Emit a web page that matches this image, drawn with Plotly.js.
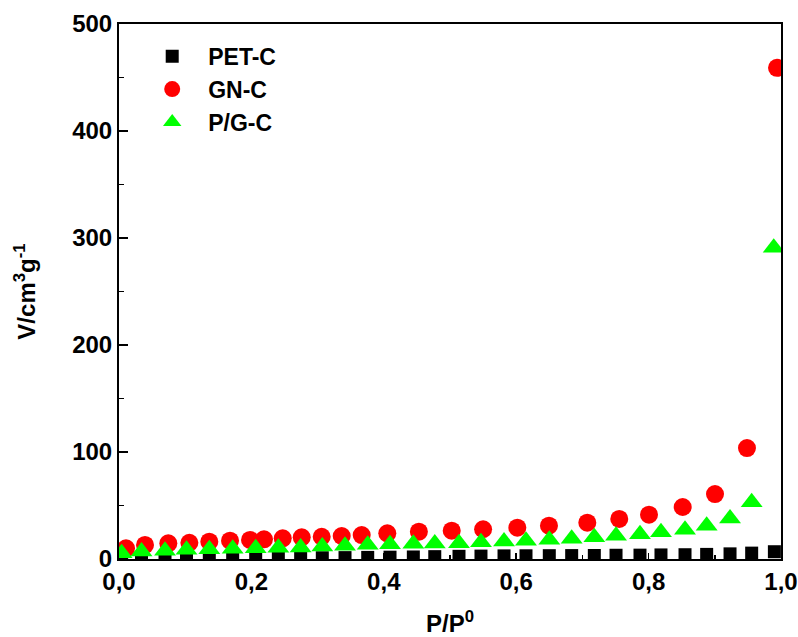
<!DOCTYPE html>
<html>
<head>
<meta charset="utf-8">
<script src="https://cdn.plot.ly/plotly-3.0.1.min.js"></script>
<style>html,body{margin:0;padding:0;background:#fff;}#chart{width:798px;height:637px;}</style>
</head>
<body>
<div id="chart"></div>
<script>
// PET-C (black squares)
const petX = [0.004,0.034,0.0695,0.102,0.1364,0.1717,0.2065,0.2407,0.2744,0.3071,0.3414,0.3757,0.4094,0.4446,0.477,0.5136,0.5468,0.5816,0.6148,0.650,0.6838,0.718,0.7508,0.787,0.8187,0.855,0.8877,0.923,0.9557,0.99];
const petY = [0.3,0.4,0.5,0.6,0.7,0.8,0.9,1.0,1.1,1.2,1.3,1.5,1.7,1.9,2.2,2.5,2.7,2.9,3.0,3.1,3.2,3.3,3.5,3.6,3.8,4.0,4.3,4.8,5.5,6.8];
// GN-C (red circles)
const gnX = [0.0106,0.0393,0.0745,0.1063,0.1364,0.1677,0.1979,0.219,0.2473,0.276,0.3062,0.3364,0.3666,0.4053,0.453,0.5026,0.550,0.6017,0.6495,0.7074,0.7557,0.8006,0.8515,0.9003,0.9486,0.994];
const gnY = [10.0,13.1,14.7,15.2,16.2,17.1,17.8,18.4,19.3,20.3,20.8,21.5,22.4,24.0,25.5,26.5,27.8,29.3,31.1,33.9,37.4,41.4,48.6,60.7,103.7,459];
// P/G-C (green triangles)
const pgX = [0.004,0.034,0.0695,0.102,0.1364,0.1717,0.2065,0.2407,0.2744,0.3071,0.3414,0.3757,0.4094,0.4446,0.477,0.5136,0.5468,0.5816,0.6148,0.650,0.6838,0.718,0.7508,0.787,0.8187,0.855,0.8877,0.923,0.9557,0.989];
const pgY = [5.4,7.0,7.7,8.6,9.0,9.5,10.1,10.4,10.7,11.7,12.3,13.3,13.8,14.2,14.5,14.8,15.7,16.4,17.0,17.9,18.9,20.4,21.7,23.2,25.0,27.3,31.0,37.9,53.1,291];

const seriesNames = ['PET-C','GN-C','P/G-C'];
const xTickVals = [0,0.2,0.4,0.6,0.8,1.0];
const yTickVals = [0,100,200,300,400,500];

const FONT = 'Liberation Sans, Arial, sans-serif';

const traces = [
  {x: petX, y: petY, name: seriesNames[0], type: 'scatter', mode: 'markers',
   marker: {symbol: 'square', size: 13, color: '#000000'}},
  {x: gnX, y: gnY, name: seriesNames[1], type: 'scatter', mode: 'markers',
   marker: {symbol: 'circle', size: 18, color: '#ff0000'}},
  {x: pgX, y: pgY, name: seriesNames[2], type: 'scatter', mode: 'markers',
   marker: {symbol: 'triangle-up', size: 19, color: '#00ff00'}}
];

const layout = {
  width: 798, height: 637,
  margin: {l: 119, r: 17, t: 24, b: 78},
  paper_bgcolor: '#ffffff', plot_bgcolor: '#ffffff',
  separators: ',.',
  font: {family: FONT, color: '#000000', size: 24, weight: 'bold'},
  showlegend: true,
  legend: {x: 0.026, y: 0.98, xanchor: 'left', yanchor: 'top',
           bgcolor: 'rgba(0,0,0,0)', font: {family: FONT, size: 23, weight: 'bold'},
           tracegroupgap: 0, itemsizing: 'trace', itemwidth: 62},
  xaxis: {
    range: [0, 1.0], tickvals: xTickVals, tickformat: '.1f',
    ticks: 'inside', ticklen: 6, tickwidth: 1.5, tickcolor: '#000',
    minor: {dtick: 0.1, ticks: 'inside', ticklen: 4, tickwidth: 1.5, tickcolor: '#000'},
    showline: true, linecolor: '#000', linewidth: 2, mirror: true,
    showgrid: false, zeroline: false,
    tickfont: {family: FONT, size: 24, weight: 'bold'},
    title: {text: 'P/P<sup>0</sup>', font: {family: FONT, size: 24, weight: 'bold'}, standoff: 33}
  },
  yaxis: {
    range: [0, 500], tickvals: yTickVals,
    ticks: 'inside', ticklen: 9, tickwidth: 1.5, tickcolor: '#000',
    minor: {dtick: 50, ticks: 'inside', ticklen: 5, tickwidth: 1.5, tickcolor: '#000'},
    showline: true, linecolor: '#000', linewidth: 2, mirror: true,
    showgrid: false, zeroline: false,
    tickfont: {family: FONT, size: 24, weight: 'bold'},
    title: {text: 'V/cm<sup>3</sup>g<sup>-1</sup>', font: {family: FONT, size: 24, weight: 'bold'}, standoff: 30}
  }
};

Plotly.newPlot('chart', traces, layout, {displayModeBar: false, staticPlot: true});
</script>
</body>
</html>
